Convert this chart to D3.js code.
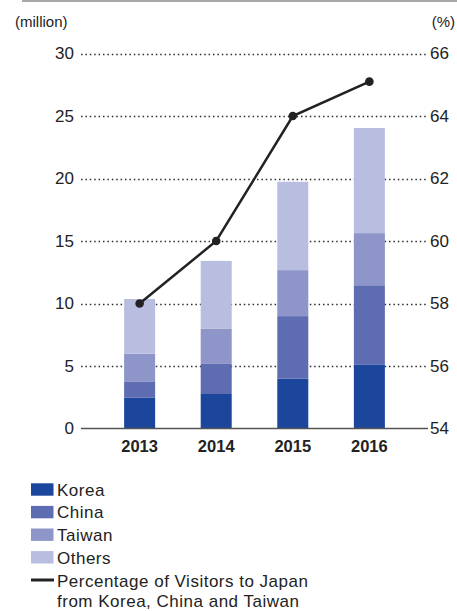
<!DOCTYPE html>
<html>
<head>
<meta charset="utf-8">
<script src="https://cdn.jsdelivr.net/npm/d3@7"></script>
<style>
  html, body { margin: 0; padding: 0; background: #fff; }
  svg { display: block; font-family: "Liberation Sans", Arial, Helvetica, sans-serif; }
</style>
</head>
<body>
<svg id="chart" width="457" height="611"></svg>
<script>
const years = ["2013", "2014", "2015", "2016"];
const korea = [2.46, 2.76, 4.00, 5.09];
const china = [1.31, 2.41, 4.99, 6.37];
const taiwan = [2.21, 2.83, 3.68, 4.17];
const others = [4.38, 5.41, 7.07, 8.41];
const percentage = [58.0, 60.0, 64.0, 65.1];
const leftTicks = [0, 5, 10, 15, 20, 25, 30];
const rightTicks = [54, 56, 58, 60, 62, 64, 66];
const seriesNames = ["Korea", "China", "Taiwan", "Others"];
const seriesColors = ["#1b469c", "#5e6cb2", "#8e95c8", "#b9bddf"];
const lineLabel = ["Percentage of Visitors to Japan", "from Korea, China and Taiwan"];

(function () {
const svg = d3.select("#chart");
const pLeft = 81, pRight = 428, pTop = 53.5, pBottom = 428.5;
const FONT = "Liberation Sans, Arial, sans-serif";

const x = d3.scaleBand().domain(years).range([pLeft, pRight]).paddingInner(0.595).paddingOuter(0.563);
const y = d3.scaleLinear().domain([0, 30]).range([pBottom, pTop]);
const y2 = d3.scaleLinear().domain([54, 66]).range([pBottom, pTop]);

// top rule
svg.append("line").attr("x1", 22).attr("x2", 457).attr("y1", 1).attr("y2", 1)
  .attr("stroke", "#a8a8a8").attr("stroke-width", 2);

// unit labels
svg.append("text").attr("x", 15).attr("y", 27).attr("font-size", 15).attr("fill", "#222").text("(million)");
svg.append("text").attr("x", 455).attr("y", 27).attr("text-anchor", "end").attr("font-size", 15).attr("fill", "#222").text("(%)");

// gridlines (dotted)
svg.append("g").selectAll("line").data(leftTicks.filter(d => d > 0)).join("line")
  .attr("x1", pLeft).attr("x2", pRight)
  .attr("y1", d => Math.round(y(d)) + 0.5).attr("y2", d => Math.round(y(d)) + 0.5)
  .attr("stroke", "#2a2a2a").attr("stroke-width", 1.7).attr("stroke-dasharray", "1.5 2.9");

// left axis labels
const leftAxis = d3.axisLeft(y).tickValues(leftTicks).tickSize(0).tickPadding(7);
const gl = svg.append("g").attr("transform", `translate(${pLeft},0)`).call(leftAxis);
gl.select(".domain").remove();
gl.selectAll("text").attr("font-size", 17).attr("fill", "#222").attr("font-family", FONT);

// right axis labels
const rightAxis = d3.axisRight(y2).tickValues(rightTicks).tickSize(0).tickPadding(2);
const gr = svg.append("g").attr("transform", `translate(${pRight},0)`).call(rightAxis);
gr.select(".domain").remove();
gr.selectAll("text").attr("font-size", 17).attr("fill", "#222").attr("font-family", FONT);

// stacked bars
const rows = years.map((yr, i) => ({ year: yr, Korea: korea[i], China: china[i], Taiwan: taiwan[i], Others: others[i] }));
const stack = d3.stack().keys(seriesNames)(rows);
const color = d3.scaleOrdinal().domain(seriesNames).range(seriesColors);
svg.append("g").selectAll("g").data(stack).join("g")
  .attr("fill", d => color(d.key))
  .selectAll("rect").data(d => d).join("rect")
  .attr("x", d => x(d.data.year))
  .attr("width", x.bandwidth())
  .attr("y", d => y(d[1]))
  .attr("height", d => y(d[0]) - y(d[1]));

// baseline
svg.append("line").attr("x1", pLeft).attr("x2", pRight).attr("y1", pBottom).attr("y2", pBottom)
  .attr("stroke", "#555").attr("stroke-width", 1.5);

// year labels
const xAxis = d3.axisBottom(x).tickSize(0).tickPadding(12);
const gx = svg.append("g").attr("transform", `translate(0,${pBottom})`).call(xAxis);
gx.select(".domain").remove();
gx.selectAll("text").attr("font-size", 16.5).attr("font-weight", "bold").attr("fill", "#222").attr("font-family", FONT);

// line
const pts = years.map((yr, i) => [x(yr) + x.bandwidth() / 2, y2(percentage[i])]);
svg.append("path").attr("d", d3.line()(pts)).attr("fill", "none")
  .attr("stroke", "#222").attr("stroke-width", 2.5);
svg.append("g").selectAll("circle").data(pts).join("circle")
  .attr("cx", d => d[0]).attr("cy", d => d[1]).attr("r", 4.3).attr("fill", "#222");

// legend
const lg = svg.append("g");
seriesNames.forEach((name, i) => {
  const cy = 489.5 + i * 22.6;
  lg.append("rect").attr("x", 31).attr("y", cy - 6.2).attr("width", 22.5).attr("height", 12.4).attr("fill", seriesColors[i]);
  lg.append("text").attr("x", 57).attr("y", cy + 6.2).attr("font-size", 17).attr("letter-spacing", 0.5).attr("fill", "#222").text(name);
});
const ly = 580;
lg.append("line").attr("x1", 31).attr("x2", 54).attr("y1", ly).attr("y2", ly).attr("stroke", "#222").attr("stroke-width", 3);
lineLabel.forEach((t, j) => {
  lg.append("text").attr("x", 57).attr("y", 586.5 + j * 20).attr("font-size", 17).attr("letter-spacing", 0.5).attr("fill", "#222").text(t);
});
})();
</script>
</body>
</html>
